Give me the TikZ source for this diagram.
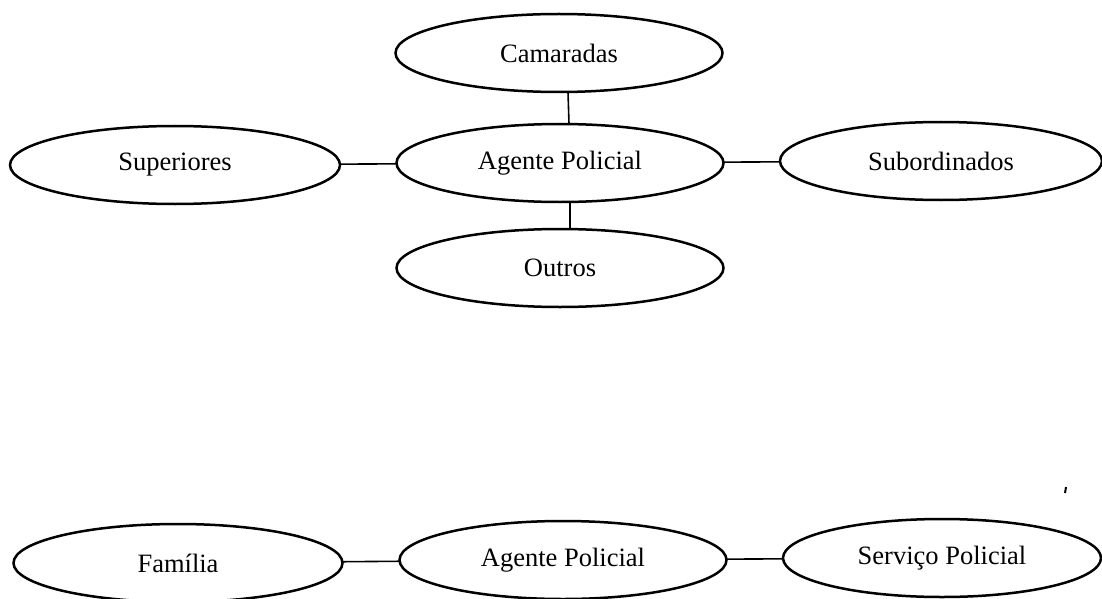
\documentclass[tikz,border=0pt]{standalone}
\usepackage{fontspec}
\setmainfont{Liberation Serif}
\usetikzlibrary{shapes.geometric}

\begin{document}
\begin{tikzpicture}[x=1pt,y=-1pt,
  oval/.style={draw=black,ellipse,line width=2.5pt,inner sep=0pt,outer sep=0pt,
    minimum width=327pt,minimum height=78pt,font=\fontsize{26.5}{30}\selectfont},
  link/.style={draw=black,line width=1.6pt}]
\useasboundingbox (0,0) rectangle (1102,599);
% upper diagram
\node at (559,53) [oval] (cam) {Camaradas};
\node at (560,163) [oval] (agt) {Agente Policial};
\node at (560,268) [oval] (out) {Outros};
\node at (175,165) [oval,minimum width=330pt] (sup) {Superiores};
\node at (941,161) [oval,minimum width=322pt] (sub) {Subordinados};
\draw [link] ([xshift=9pt]cam.south) -- ([xshift=9pt]agt.north);
\draw [link] ([xshift=10pt]agt.south) -- ([xshift=10pt]out.north);
\draw [link] (sup) -- (agt);
\draw [link] (agt) -- (sub);
% lower diagram
\node at (178,563) [oval,minimum width=329pt] (fam) {Família};
\node at (563,560) [oval] (agb) {Agente Policial};
\node at (942,558) [oval,minimum width=318pt] (srv) {Serviço Policial};
\draw [link] (fam) -- (agb);
\draw [link] (agb) -- (srv);
\draw [line width=2pt] (1066,487) -- (1065,493);
\end{tikzpicture}
\end{document}
